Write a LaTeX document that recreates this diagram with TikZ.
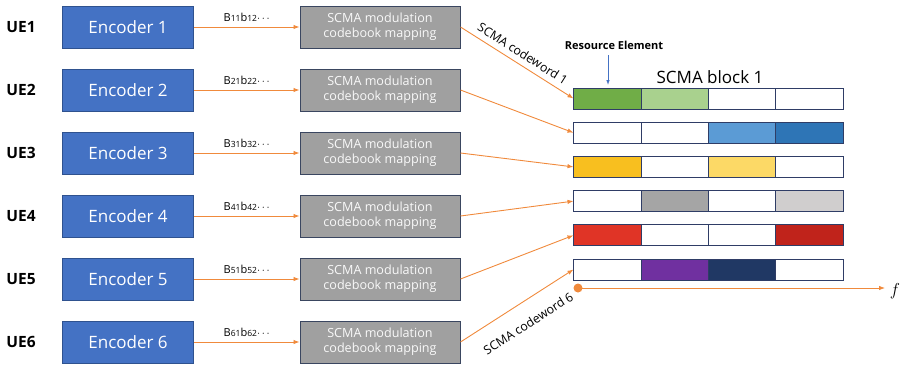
\documentclass[tikz,border=0pt]{standalone}
\usepackage{fontspec}
\setmainfont{Open Sans}
\usetikzlibrary{arrows.meta}

\definecolor{encblue}{HTML}{4472C4}
\definecolor{encedge}{HTML}{2F528F}
\definecolor{mapgray}{HTML}{A0A0A0}
\definecolor{mapedge}{HTML}{3A4660}
\definecolor{arrorange}{HTML}{F08A3C}
\definecolor{gridedge}{HTML}{2F3D66}
% resource element colours
\definecolor{reGreen}{HTML}{70AD47}
\definecolor{reLightgreen}{HTML}{A9D18E}
\definecolor{reBlue}{HTML}{5B9BD5}
\definecolor{reDarkblue}{HTML}{2E75B6}
\definecolor{reGold}{HTML}{F8BF1F}
\definecolor{reYellow}{HTML}{FCD966}
\definecolor{reGray}{HTML}{A5A5A5}
\definecolor{reLightgray}{HTML}{D0CECE}
\definecolor{reRed}{HTML}{E03426}
\definecolor{reDarkred}{HTML}{C0231B}
\definecolor{rePurple}{HTML}{7030A0}
\definecolor{reNavy}{HTML}{203864}

\begin{document}
\begin{tikzpicture}[x=1pt,y=-1pt,
    encoder/.style={draw=encedge,line width=1pt,fill=encblue,text=white,minimum width=131pt,minimum height=42pt,font=\fontsize{17}{19}\selectfont},
    mapper/.style={draw=mapedge,line width=1pt,fill=mapgray,text=white!95!gray,minimum width=160pt,minimum height=42pt,inner sep=1pt,align=center,font=\fontsize{12.6}{15}\selectfont},
    ue/.style={font=\bfseries\fontsize{15.5}{17}\selectfont},
    re/.style={draw=gridedge,line width=1pt,minimum width=67.25pt,minimum height=21pt,inner sep=0pt},
    flow/.style={draw=arrorange,line width=0.9pt,-{Latex[length=6pt,width=4.5pt]}},
    bits/.style={font=\fontsize{11}{13}\selectfont},
    cword/.style={font=\fontsize{12.3}{14}\selectfont,inner sep=1pt}]
\useasboundingbox (0,0) rectangle (902,365);

% users, encoders and mappers
\foreach \i in {1,...,6}{
  \node[ue] (UE\i) at (21,27+63*\i-63) {UE\i};
  \node[encoder] (Enc\i) at (128,27+63*\i-63) {Encoder \i};
  \node[mapper] (Map\i) at (380,27+63*\i-63) {SCMA modulation\\codebook mapping};
  \draw[flow] (Enc\i) -- node[above=2pt,bits,text=black] {B{\fontsize{8.5}{9}\selectfont\i1}b{\fontsize{8.5}{9}\selectfont\i2}$\cdots$} (Map\i);
}

% resource grid
\foreach \r/\ca/\cb/\cc/\cd in {1/reGreen/reLightgreen/white/white,
                                2/white/white/reBlue/reDarkblue,
                                3/reGold/white/reYellow/white,
                                4/white/reGray/white/reLightgray,
                                5/reRed/white/white/reDarkred,
                                6/white/rePurple/reNavy/white}{
  \node[re,fill=\ca] (G\r-1) at (607.6,98.5+34.2*\r-34.2) {};
  \node[re,fill=\cb] (G\r-2) at (674.9,98.5+34.2*\r-34.2) {};
  \node[re,fill=\cc] (G\r-3) at (742.1,98.5+34.2*\r-34.2) {};
  \node[re,fill=\cd] (G\r-4) at (809.4,98.5+34.2*\r-34.2) {};
  \draw[flow] (Map\r.east) -- (G\r-1.west);
}

\node[font=\fontsize{17}{19}\selectfont] (Block) at (710,77) {SCMA block 1};
\node[font=\bfseries\fontsize{11}{13}\selectfont] (RE) at (614,45) {Resource Element};
\draw[draw=encblue,line width=0.8pt,-{Latex[length=5pt,width=3.5pt]}] (608,55) -- (608,85);

% codeword labels
\path (Map1.east) -- node[sloped,above=5pt,pos=0.5,cword] (CW1) {SCMA codeword 1} (G1-1.west);
\path (Map6.east) -- node[sloped,below=15pt,pos=0.5,cword] (CW6) {SCMA codeword 6} (G6-1.west);

% frequency axis
\coordinate (Orig) at (578,288);
\coordinate (Fend) at (885,288);
\fill[arrorange] (Orig) circle (4.5pt);
\draw[flow,line width=0.8pt] (Orig) -- (Fend);
\node (F) at (895,291) {\LARGE $f$};
\end{tikzpicture}
\end{document}
